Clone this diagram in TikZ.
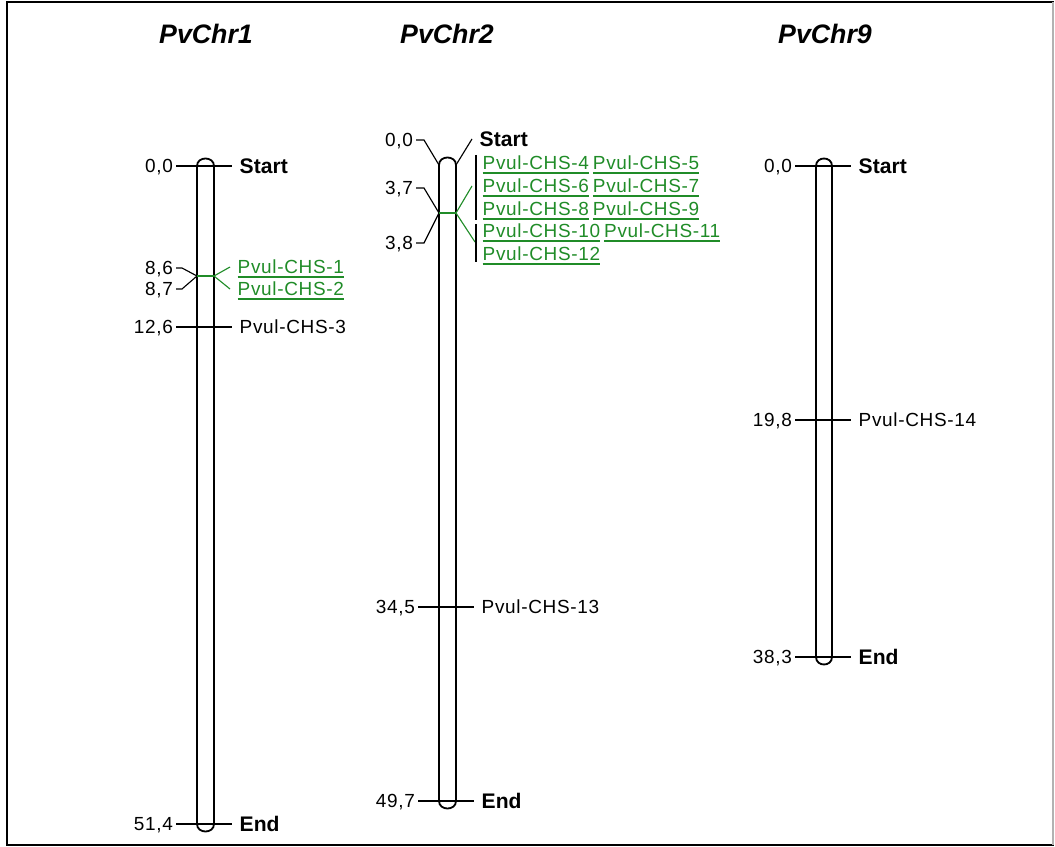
\documentclass[tikz,border=0pt]{standalone}
\usepackage{fontspec}
\setmainfont{Liberation Sans}
\newfontfamily\labelfont[LetterSpace=3.5]{Liberation Sans}
\usetikzlibrary{positioning}
\definecolor{qtlgreen}{RGB}{32,140,40}
\newcommand{\qtlname}[1]{\setbox0\hbox{#1}\rlap{\rule[-3pt]{\wd0}{1.1pt}}\box0}
\tikzstyle{chrom} = [line width=1.3pt]
\tikzstyle{tick} = [line width=1.1pt]
\tikzstyle{fan} = [line width=0.8pt]
\tikzstyle{qtlbar} = [qtlgreen, line width=1.6pt]
\tikzstyle{posval} = [
    anchor=east,
    inner sep=2pt,
    text height=9.6pt,
    text depth=0pt,
    font=\fontsize{13.5}{16}\labelfont
]
\tikzstyle{gene} = [
    anchor=west,
    inner xsep=1.5pt,
    outer xsep=4pt,
    inner ysep=1pt,
    text height=9.6pt,
    text depth=0pt,
    font=\fontsize{13.5}{16}\labelfont
]
\tikzstyle{qtl} = [gene, text=qtlgreen]
\tikzstyle{term} = [gene, text height=10.6pt, font=\fontsize{15}{18}\selectfont\bfseries]
\tikzstyle{chrname} = [font=\fontsize{19}{22}\selectfont\bfseries\itshape]

\begin{document}
\begin{tikzpicture}[x=0.025cm, y=-0.025cm]
\useasboundingbox (0,0) rectangle (1055,847);
\draw[line width=1.5pt] (7,2) rectangle (1053,845);
\draw[gray!60, line width=1.5pt] (1053,2) -- (1053,845);

% chromosome names
\node[chrname] (name1) at (206,34) {PvChr1};
\node[chrname] (name2) at (447,34) {PvChr2};
\node[chrname] (name9) at (825,34) {PvChr9};

% PvChr1
\draw[chrom] (197,166) .. controls (197,156) and (214,156) .. (214,166)
    -- (214,824) .. controls (214,834) and (197,834) .. (197,824) -- cycle;
\coordinate (c1l) at (197,276);
\coordinate (c1r) at (214,276);
\node[posval] (p1a) at (176,166) {0,0};
\node[term] (t1a) at (232,166) {Start};
\node[posval] (p1b) at (176,268) {8,6};
\node[posval] (p1c) at (176,289) {8,7};
\node[qtl] (g1) at (230,267) {\qtlname{Pvul-CHS-1}};
\node[qtl] (g2) at (230,289) {\qtlname{Pvul-CHS-2}};
\node[posval] (p1d) at (176,327) {12,6};
\node[gene] (g3) at (232,327) {Pvul-CHS-3};
\node[posval] (p1e) at (176,824) {51,4};
\node[term] (t1e) at (232,824) {End};
\draw[tick] (p1a.east) -- (t1a.west);
\draw[fan] (p1b.east) -- ++(6,0) -- (c1l);
\draw[fan] (p1c.east) -- ++(6,0) -- (c1l);
\draw[qtlbar] (c1l) -- (c1r);
\draw[fan, qtlgreen] (c1r) -- (g1.west);
\draw[fan, qtlgreen] (c1r) -- (g2.west);
\draw[tick] (p1d.east) -- (g3.west);
\draw[tick] (p1e.east) -- (t1e.west);

% PvChr2
\draw[chrom] (439,165) .. controls (439,155) and (456,155) .. (456,165)
    -- (456,801) .. controls (456,811) and (439,811) .. (439,801) -- cycle;
\coordinate (c2tl) at (439,165);
\coordinate (c2tr) at (456,165);
\coordinate (c2l) at (439,213);
\coordinate (c2r) at (456,213);
\coordinate (b1) at (472,186);
\coordinate (b2) at (475,242);
\node[posval] (p2a) at (416,140) {0,0};
\node[term] (t2a) at (472,139) {Start};
\node[posval] (p2b) at (416,188) {3,7};
\node[posval] (p2c) at (416,243) {3,8};
\node[qtl] (g4) at (475,163) {\qtlname{Pvul-CHS-4}};
\node[qtl, right=-0.285cm of g4] (g5) {\qtlname{Pvul-CHS-5}};
\node[qtl] (g6) at (475,186) {\qtlname{Pvul-CHS-6}};
\node[qtl, right=-0.285cm of g6] (g7) {\qtlname{Pvul-CHS-7}};
\node[qtl] (g8) at (475,209) {\qtlname{Pvul-CHS-8}};
\node[qtl, right=-0.285cm of g8] (g9) {\qtlname{Pvul-CHS-9}};
\node[qtl] (g10) at (475,231) {\qtlname{Pvul-CHS-10}};
\node[qtl, right=-0.285cm of g10] (g11) {\qtlname{Pvul-CHS-11}};
\node[qtl] (g12) at (475,254) {\qtlname{Pvul-CHS-12}};
\node[posval] (p2d) at (418,607) {34,5};
\node[gene] (g13) at (474,607) {Pvul-CHS-13};
\node[posval] (p2e) at (418,801) {49,7};
\node[term] (t2e) at (474,801) {End};
\draw[fan] (p2a.east) -- ++(8,0) -- (c2tl);
\draw[fan] (c2tr) -- (t2a.west);
\draw[fan] (p2b.east) -- ++(8,0) -- (c2l);
\draw[fan] (p2c.east) -- ++(8,0) -- (c2l);
\draw[qtlbar, line width=1.1pt] (c2l) -- (c2r);
\draw[fan, qtlgreen] (c2r) -- (b1);
\draw[fan, qtlgreen] (c2r) -- (b2);
\draw[line width=1pt] (476,155) -- (476,220);
\draw[line width=1pt] (476,224) -- (476,262);
\draw[tick] (p2d.east) -- (g13.west);
\draw[tick] (p2e.east) -- (t2e.west);

% PvChr9
\draw[chrom] (816,166) .. controls (816,156) and (832,156) .. (832,166)
    -- (832,657) .. controls (832,667) and (816,667) .. (816,657) -- cycle;
\node[posval] (p9a) at (795,166) {0,0};
\node[term] (t9a) at (851,166) {Start};
\node[posval] (p9b) at (795,420) {19,8};
\node[gene] (g14) at (851,420) {Pvul-CHS-14};
\node[posval] (p9c) at (795,657) {38,3};
\node[term] (t9c) at (851,657) {End};
\draw[tick] (p9a.east) -- (t9a.west);
\draw[tick] (p9b.east) -- (g14.west);
\draw[tick] (p9c.east) -- (t9c.west);

\end{tikzpicture}
\end{document}
